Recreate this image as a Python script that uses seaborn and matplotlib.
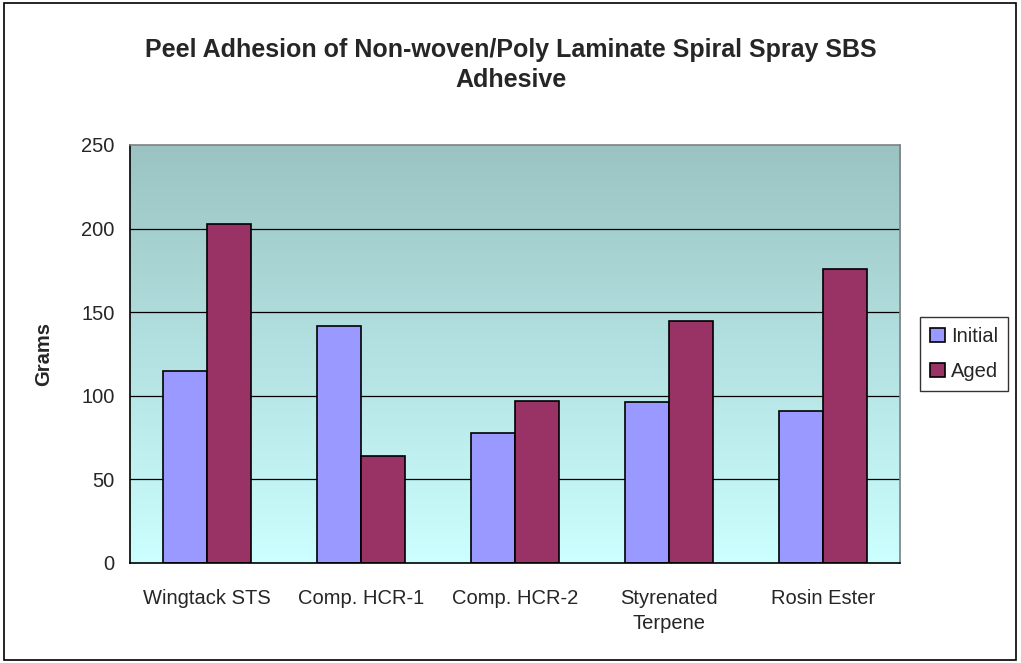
import numpy as np
import pandas as pd
import matplotlib.pyplot as plt
import seaborn as sns
from matplotlib.patches import Rectangle

# chart values
categories = ["Wingtack STS", "Comp. HCR-1", "Comp. HCR-2", "Styrenated\nTerpene", "Rosin Ester"]
initial = [115, 142, 78, 96, 91]
aged = [203, 64, 97, 145, 176]
series = ["Initial", "Aged"]
yticks = [0, 50, 100, 150, 200, 250]

df = pd.DataFrame({
    "Category": categories * 2,
    "Grams": initial + aged,
    "Series": ["Initial"] * len(categories) + ["Aged"] * len(categories),
})

sns.set_theme(style="white")
plt.rcParams["font.family"] = ["Liberation Sans", "DejaVu Sans"]

fig = plt.figure(figsize=(10.21, 6.63), dpi=100)
ax = fig.add_axes([130 / 1021, 100 / 663, 770 / 1021, 418 / 663])

# gradient plot area (teal at top, pale cyan at bottom)
top = np.array([155, 195, 195]) / 255
bottom = np.array([204, 255, 255]) / 255
t = np.linspace(0, 1, 256)[:, None]
grad = (top * (1 - t) + bottom * t)[:, None, :]
ax.imshow(grad, extent=[0, 1, 0, 1], transform=ax.transAxes, aspect="auto", zorder=0)

for y in yticks[1:-1]:
    ax.axhline(y, color="black", linewidth=0.9, zorder=1)

sns.barplot(
    data=df, x="Category", y="Grams", hue="Series", hue_order=series,
    palette=["#9999FF", "#993366"], width=0.572, edgecolor="black", linewidth=1.2,
    saturation=1, ax=ax, zorder=2,
)

ax.set_xlim(-0.5, len(categories) - 0.5)
ax.set_ylim(0, 250)
ax.set_yticks(yticks)
ax.set_yticklabels([str(v) for v in yticks], fontsize=14.5)
ax.set_xticks(np.arange(len(categories)))
ax.set_xticklabels(categories, fontsize=14.5, linespacing=1.35)
ax.tick_params(axis="x", length=0, pad=19)
ax.set_xticks(np.arange(len(categories) + 1) - 0.5, minor=True)
ax.tick_params(axis="x", which="minor", length=7, width=1, direction="out", color="black")
ax.tick_params(axis="y", length=7, width=1, direction="out", color="black", pad=4)
ax.set_xlabel("")
ax.set_ylabel("Grams", fontsize=14.5, fontweight="bold", labelpad=20)

for side in ["left", "bottom"]:
    ax.spines[side].set_color("black")
    ax.spines[side].set_linewidth(1.2)
for side in ["top", "right"]:
    ax.spines[side].set_color("#808080")
    ax.spines[side].set_linewidth(1.2)

leg = ax.legend(
    loc="center left", bbox_to_anchor=(1.026, 0.5), fontsize=14.5, frameon=True,
    fancybox=False, edgecolor="black", handlelength=0.75, handleheight=0.75,
    handletextpad=0.3, labelspacing=0.8, borderpad=0.5, borderaxespad=0,
)
leg.get_frame().set_linewidth(1.0)

fig.text(0.5, 0.943, "Peel Adhesion of Non-woven/Poly Laminate Spiral Spray SBS\nAdhesive",
         ha="center", va="top", fontsize=18, fontweight="bold", linespacing=1.35)

fig.patches.append(Rectangle((4 / 1021, 3 / 663), 1012 / 1021, 657 / 663, transform=fig.transFigure,
                             fill=False, edgecolor="black", linewidth=1.2))

fig.savefig("out.png", dpi=100)
